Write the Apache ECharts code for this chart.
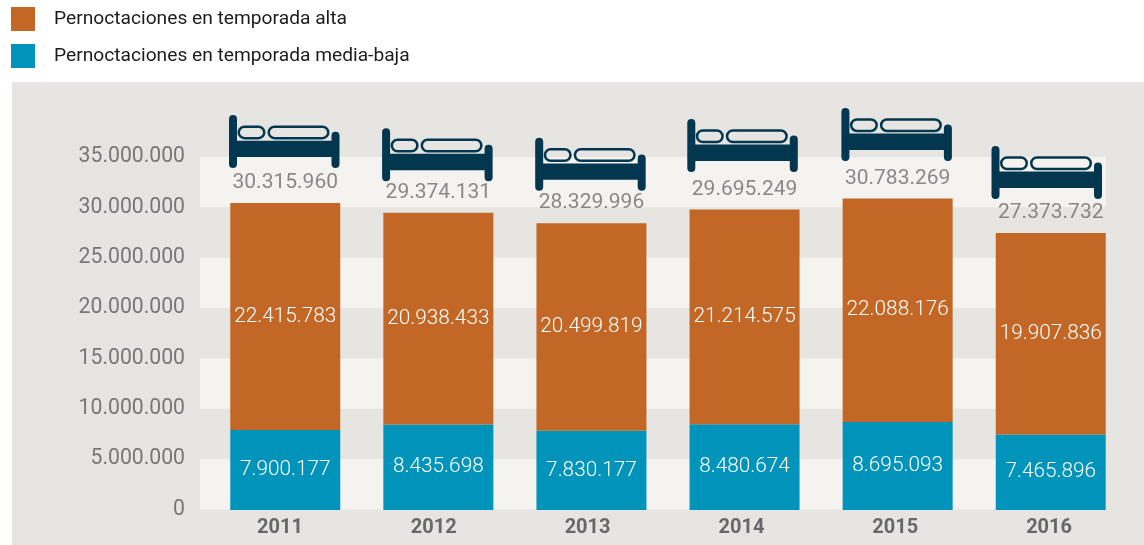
<!DOCTYPE html>
<html><head><meta charset="utf-8">
<style>html,body{margin:0;padding:0;background:#fff}#c{width:1144px;height:545px}</style>
<script src="https://cdn.jsdelivr.net/npm/echarts@6/dist/echarts.min.js"></script>
</head><body><div id="c"></div>
<script>
const years = ['2011','2012','2013','2014','2015','2016'];
const alta = [22415783,20938433,20499819,21214575,22088176,19907836];
const mediaBaja = [7900177,8435698,7830177,8480674,8695093,7465896];
const totals = [30315960,29374131,28329996,29695249,30783269,27373732];
const nameAlta = 'Pernoctaciones en temporada alta';
const nameMedia = 'Pernoctaciones en temporada media-baja';

const bedOffsets = [[-1,-61.5],[-1,-58],[-1,-59],[-2,-64],[-1,-64],[-4,-60.5]];
const fmt = n => String(n).replace(/\B(?=(\d{3})+(?!\d))/g,'.');
const FONT = 'Roboto';
const bedPath = 'path://M4 0A4 4 0 0 1 8 4V25.7H102.5V20.7A4 4 0 0 1 110.5 20.7V49A4 4 0 0 1 102.5 49V42H8V49A4 4 0 0 1 0 49V4A4 4 0 0 1 4 0Z'
 + 'M15.5 10.3H29.5A7 7 0 0 1 29.5 24.3H15.5A7 7 0 0 1 15.5 10.3Z'
 + 'M15.5 12.8A4.5 4.5 0 0 0 15.5 21.8H29.5A4.5 4.5 0 0 0 29.5 12.8Z'
 + 'M45.5 10.3H93.5A7 7 0 0 1 93.5 24.3H45.5A7 7 0 0 1 45.5 10.3Z'
 + 'M45.5 12.8A4.5 4.5 0 0 0 45.5 21.8H93.5A4.5 4.5 0 0 0 93.5 12.8Z';

const yBase = {type:'value',min:0,max:35000000,interval:5000000};
const xHidden = {type:'category',data:years,axisLine:{show:false},axisTick:{show:false},axisLabel:{show:false},splitLine:{show:false}};
const hiddenY = Object.assign({},yBase,{axisLine:{show:false},axisTick:{show:false},axisLabel:{show:false},splitLine:{show:false}});
const gridTop=157, gridHeight=352.5;

const chart = echarts.init(document.getElementById('c'),null,{renderer:'canvas'});
chart.setOption({
  animation:false,
  backgroundColor:'#ffffff',
  textStyle:{fontFamily:FONT},
  graphic:[{type:'rect',z:-10,shape:{x:12,y:82,width:1132,height:463},style:{fill:'#e6e5e1'}}],
  legend:{
    orient:'vertical',left:6,top:2,itemWidth:24,itemHeight:24,itemGap:13,
    icon:'rect',data:[nameAlta,nameMedia],selectedMode:false,
    textStyle:{fontFamily:FONT,fontSize:19.2,color:'#1c1c1c',padding:[3,0,0,14]}
  },
  grid:[
    {left:200,width:906,top:gridTop,height:gridHeight},
    {left:208.7,width:918.6,top:155.7,height:354.3},
    {left:203,width:923,top:gridTop,height:gridHeight}
  ],
  xAxis:[
    Object.assign({gridIndex:0},xHidden),
    Object.assign({gridIndex:1},xHidden),
    {gridIndex:2,type:'category',data:years,axisLine:{show:false},axisTick:{show:false},splitLine:{show:false},
     axisLabel:{margin:8,fontFamily:FONT,fontSize:20,fontWeight:'bold',color:'#68686a'}}
  ],
  yAxis:[
    Object.assign({gridIndex:0},yBase,{
      axisLine:{show:false},axisTick:{show:false},splitLine:{show:false},
      splitArea:{show:true,areaStyle:{color:['#f4f3ef','rgba(0,0,0,0)']}},
      axisLabel:{margin:15,fontFamily:FONT,fontSize:21.2,fontWeight:400,color:'#777777',formatter:v=>fmt(v)}
    }),
    Object.assign({gridIndex:1},hiddenY),
    Object.assign({gridIndex:2},hiddenY)
  ],
  series:[
    {name:nameMedia,type:'bar',stack:'t',xAxisIndex:1,yAxisIndex:1,barWidth:110,data:mediaBaja,
     itemStyle:{color:'#0094bb'},
     label:{show:true,position:'inside',formatter:p=>fmt(p.value),fontFamily:FONT,fontSize:20.8,fontWeight:300,color:'#ffffff'}},
    {name:nameAlta,type:'bar',stack:'t',xAxisIndex:1,yAxisIndex:1,barWidth:110,data:alta,
     itemStyle:{color:'#c26726'},
     label:{show:true,position:'inside',formatter:p=>fmt(p.value),fontFamily:FONT,fontSize:20.8,fontWeight:300,color:'#ffffff'}},
    {name:'Camas',type:'scatter',xAxisIndex:1,yAxisIndex:1,symbol:bedPath,symbolSize:[110.5,53],
     itemStyle:{color:'#03364f',opacity:1},z:5,
     data:totals.map((t,i)=>({value:[i,t],symbolOffset:bedOffsets[i]}))},
    {name:'Total',type:'scatter',xAxisIndex:1,yAxisIndex:1,symbol:'circle',symbolSize:1,
     itemStyle:{color:'rgba(0,0,0,0)'},z:6,
     label:{show:true,position:'inside',offset:[0,-20],formatter:p=>fmt(p.value[1]),fontFamily:FONT,fontSize:21,fontWeight:400,color:'#6e6e6e'},
     data:totals.map((t,i)=>[i,t])}
  ]
});
</script></body></html>
